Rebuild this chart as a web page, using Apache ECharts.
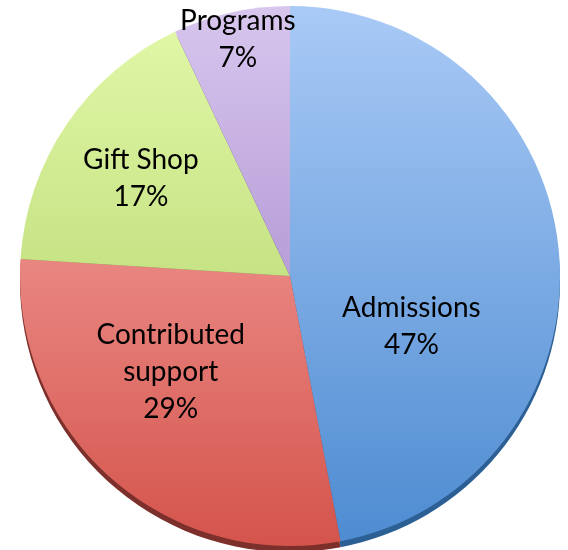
<!DOCTYPE html>
<html>
<head>
<meta charset="utf-8">
<script src="https://cdn.jsdelivr.net/npm/echarts@6/dist/echarts.min.js"></script>
<style>
  html, body { margin: 0; padding: 0; background: #fff; }
  #pie { width: 568px; height: 550px; }
</style>
</head>
<body>
<div id="pie"></div>
<script>
  // 收入构成
  var categories = ['Admissions', 'Contributed support', 'Gift Shop', 'Programs']
  var shares = [47, 29, 17, 7]
  var labelNames = ['Admissions', 'Contributed\nsupport', 'Gift Shop', 'Programs']

  // 渐变色 (上 -> 下)
  var topColors = ['#a9caf6', '#fcb2b0', '#e3f9aa', '#d8c6ee']
  var bottomColors = ['#4d8bd1', '#d4544c', '#a8cc5e', '#9575c0']
  var edgeColors = ['#2c5f94', '#7d2f2b', '#6f8a37', '#5c4680']

  // 标签微调
  var labelShift = [[-16, 63], [-28, -8], [-35, -20], [-22, -102]]

  var cx = 290, cy = 276, r = 270

  function grad(i) {
    return new echarts.graphic.LinearGradient(0, cy - r, 0, cy + r, [
      { offset: 0, color: topColors[i] },
      { offset: 1, color: bottomColors[i] }
    ], true)
  }

  var mainData = categories.map(function (c, i) {
    return {
      name: c,
      value: shares[i],
      itemStyle: { color: grad(i) },
      label: { formatter: labelNames[i] + '\n' + shares[i] + '%' }
    }
  })
  var edgeData = categories.map(function (c, i) {
    return { name: c, value: shares[i], itemStyle: { color: edgeColors[i] } }
  })

  var chart = echarts.init(document.getElementById('pie'))
  chart.setOption({
    animation: false,
    series: [{
      name: 'edge',
      type: 'pie',
      silent: true,
      z: 1,
      center: [cx, cy + 6],
      radius: r,
      startAngle: 90,
      clockwise: true,
      label: { show: false },
      labelLine: { show: false },
      data: edgeData
    }, {
      name: 'income',
      type: 'pie',
      z: 2,
      center: [cx, cy],
      radius: r,
      startAngle: 90,
      clockwise: true,
      itemStyle: { borderWidth: 0 },
      label: {
        show: true,
        position: 'inside',
        color: '#000',
        fontFamily: 'Lato',
        fontSize: 28,
        lineHeight: 37,
        align: 'center'
      },
      labelLine: { show: false },
      labelLayout: function (p) {
        var s = labelShift[p.dataIndex]
        return { dx: s[0], dy: s[1] }
      },
      data: mainData
    }]
  })
</script>
</body>
</html>
